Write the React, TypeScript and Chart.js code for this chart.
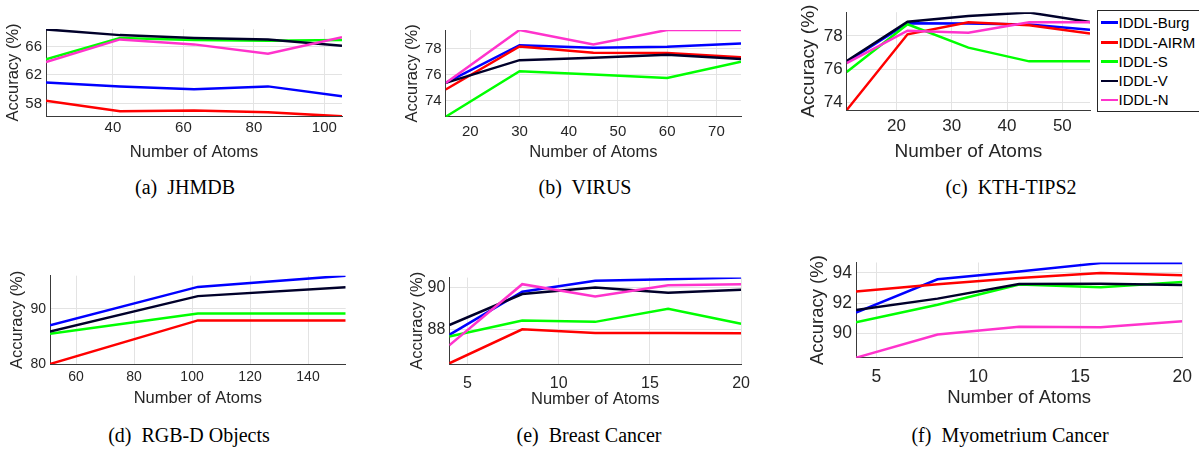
import React, { useEffect, useRef } from 'react';
import { Chart, registerables } from 'chart.js';

Chart.register(...registerables);

// ---------- data ----------
const seriesNames = ['IDDL-Burg', 'IDDL-AIRM', 'IDDL-S', 'IDDL-V', 'IDDL-N'];
const seriesColors = ['#0000ff', '#ff0000', '#00ff00', '#00002a', '#ff33cc'];

// (a) JHMDB
const jhmdbAtoms = [21, 42, 63, 84, 105];
const jhmdbBurg = [60.95, 60.4, 60.0, 60.4, 59.0];
const jhmdbAirm = [58.4, 56.9, 57.0, 56.75, 56.2];
const jhmdbS = [64.2, 67.2, 66.9, 66.8, 66.9];
const jhmdbV = [68.4, 67.6, 67.2, 67.0, 66.1];
const jhmdbN = [63.8, 67.0, 66.3, 65.0, 67.3];
const jhmdbXTicks = [40, 60, 80, 100];
const jhmdbYTicks = [58, 62, 66];

// (b) VIRUS
const virusAtoms = [15, 30, 45, 60, 75];
const virusBurg = [75.36, 78.28, 78.08, 78.15, 78.4];
const virusAirm = [74.85, 78.18, 77.7, 77.68, 77.34];
const virusS = [72.75, 76.27, 76.02, 75.75, 77.0];
const virusV = [75.36, 77.12, 77.3, 77.53, 77.2];
const virusN = [75.36, 79.45, 78.33, 79.45, 79.45];
const virusXTicks = [20, 30, 40, 50, 60, 70];
const virusYTicks = [74, 76, 78];

// (c) KTH-TIPS2
const kthAtoms = [11, 22, 33, 44, 55];
const kthBurg = [76.45, 78.76, 78.74, 78.68, 78.37];
const kthAirm = [73.57, 78.1, 78.82, 78.64, 78.15];
const kthS = [75.84, 78.7, 77.3, 76.48, 76.48];
const kthV = [76.5, 78.85, 79.19, 79.4, 78.84];
const kthN = [76.38, 78.31, 78.19, 78.82, 78.82];
const kthXTicks = [20, 30, 40, 50];
const kthYTicks = [74, 76, 78];

// (d) RGB-D Objects
const rgbdAtoms = [51, 102, 153];
const rgbdBurg = [87.0, 93.97, 96.0];
const rgbdAirm = [80.0, 87.9, 87.9];
const rgbdS = [85.5, 89.15, 89.15];
const rgbdV = [85.9, 92.3, 93.9];
const rgbdXTicks = [60, 80, 100, 120, 140];
const rgbdYTicks = [80, 90];

// (e) Breast Cancer
const breastAtoms = [4, 8, 12, 16, 20];
const breastBurg = [87.77, 89.8, 90.31, 90.38, 90.46];
const breastAirm = [86.43, 88.03, 87.86, 87.86, 87.85];
const breastS = [87.69, 88.44, 88.38, 89.0, 88.29];
const breastV = [88.23, 89.69, 90.0, 89.75, 89.89];
const breastN = [87.28, 90.15, 89.57, 90.1, 90.15];
const breastXTicks = [5, 10, 15, 20];
const breastYTicks = [88, 90];

// (f) Myometrium Cancer
const myoAtoms = [4, 8, 12, 16, 20];
const myoBurg = [91.38, 93.58, 94.1, 94.65, 94.65];
const myoAirm = [92.77, 93.25, 93.66, 94.0, 93.85];
const myoS = [90.74, 91.9, 93.23, 93.06, 93.4];
const myoV = [91.55, 92.3, 93.27, 93.29, 93.2];
const myoN = [88.39, 89.92, 90.43, 90.41, 90.8];
const myoXTicks = [5, 10, 15, 20];
const myoYTicks = [90, 92, 94];

// ---------- layout (positions/styles only) ----------
type Rect = { l: number; r: number; t: number; b: number };
type PanelCfg = {
  caption: string;
  x: number[];
  series: { idx: number; values: number[] }[];
  xMin: number; xMax: number; yMin: number; yMax: number;
  xTicks: number[]; yTicks: number[];
  plot: Rect;
  yTitleCx: number; xTitleCy: number;
  tickSize: number; titleSize: number; xTickPad: number;
  capX: number; capY: number;
};

const panels: PanelCfg[] = [
  {
    caption: '(a)  JHMDB', x: jhmdbAtoms,
    series: [jhmdbBurg, jhmdbAirm, jhmdbS, jhmdbV, jhmdbN].map((values, idx) => ({ idx, values })),
    xMin: 21, xMax: 105, yMin: 56.24, yMax: 68.46, xTicks: jhmdbXTicks, yTicks: jhmdbYTicks,
    plot: { l: 46, r: 342, t: 28, b: 116 }, yTitleCx: 14, xTitleCy: 151.7,
    tickSize: 15, titleSize: 16.5, xTickPad: 3, capX: 185, capY: 187,
  },
  {
    caption: '(b)  VIRUS', x: virusAtoms,
    series: [virusBurg, virusAirm, virusS, virusV, virusN].map((values, idx) => ({ idx, values })),
    xMin: 15, xMax: 75, yMin: 72.75, yMax: 79.45, xTicks: virusXTicks, yTicks: virusYTicks,
    plot: { l: 445.7, r: 741, t: 29, b: 116.7 }, yTitleCx: 413, xTitleCy: 152,
    tickSize: 15, titleSize: 16.5, xTickPad: 6, capX: 585, capY: 187,
  },
  {
    caption: '(c)  KTH-TIPS2', x: kthAtoms,
    series: [kthBurg, kthAirm, kthS, kthV, kthN].map((values, idx) => ({ idx, values })),
    xMin: 11, xMax: 55, yMin: 73.57, yMax: 79.42, xTicks: kthXTicks, yTicks: kthYTicks,
    plot: { l: 846.7, r: 1090, t: 10, b: 110 }, yTitleCx: 809, xTitleCy: 150.7,
    tickSize: 17, titleSize: 19, xTickPad: 6, capX: 1011, capY: 187,
  },
  {
    caption: '(d)  RGB-D Objects', x: rgbdAtoms,
    series: [rgbdBurg, rgbdAirm, rgbdS, rgbdV].map((values, idx) => ({ idx, values })),
    xMin: 51, xMax: 153, yMin: 80, yMax: 96, xTicks: rgbdXTicks, yTicks: rgbdYTicks,
    plot: { l: 50, r: 345.7, t: 275.7, b: 364 }, yTitleCx: 18, xTitleCy: 398,
    tickSize: 14, titleSize: 16.5, xTickPad: 5, capX: 189, capY: 435,
  },
  {
    caption: '(e)  Breast Cancer', x: breastAtoms,
    series: [breastBurg, breastAirm, breastS, breastV, breastN].map((values, idx) => ({ idx, values })),
    xMin: 4, xMax: 20, yMin: 86.4, yMax: 90.46, xTicks: breastXTicks, yTicks: breastYTicks,
    plot: { l: 449.3, r: 745.3, t: 276, b: 364 }, yTitleCx: 418, xTitleCy: 399,
    tickSize: 16, titleSize: 16.5, xTickPad: 10, capX: 589, capY: 435,
  },
  {
    caption: '(f)  Myometrium Cancer', x: myoAtoms,
    series: [myoBurg, myoAirm, myoS, myoV, myoN].map((values, idx) => ({ idx, values })),
    xMin: 4, xMax: 20, yMin: 88.39, yMax: 94.69, xTicks: myoXTicks, yTicks: myoYTicks,
    plot: { l: 856, r: 1186.7, t: 260, b: 357.7 }, yTitleCx: 819, xTitleCy: 397,
    tickSize: 17.5, titleSize: 18.5, xTickPad: 9, capX: 1010, capY: 435,
  },
];

const SANS = '"Liberation Sans", Arial, Helvetica, sans-serif';
const SERIF = '"Liberation Serif", "Times New Roman", serif';
const TEXT = '#262626';
const AXIS = '#3a3a3a';
const GRID = '#e3e3e3';

function Panel({ cfg }: { cfg: PanelCfg }) {
  const ref = useRef<HTMLCanvasElement>(null);
  const lh = cfg.titleSize * 1.2;
  const cLeft = Math.floor(cfg.yTitleCx - lh / 2);
  const cTop = Math.floor(cfg.plot.t - 12);
  const cW = Math.ceil(cfg.plot.r + 14) - cLeft;
  const cH = Math.ceil(cfg.xTitleCy + lh / 2) - cTop;
  const yAxisW = cfg.plot.l - cLeft;
  const padTop = cfg.plot.t - cTop;
  const padRight = cLeft + cW - cfg.plot.r;
  const xAxisH = cTop + cH - cfg.plot.b;

  useEffect(() => {
    const canvas = ref.current!;
    const chart = new Chart(canvas, {
      type: 'line',
      data: {
        datasets: cfg.series.map((s) => ({
          label: seriesNames[s.idx],
          data: cfg.x.map((xv, j) => ({ x: xv, y: s.values[j] })),
          borderColor: seriesColors[s.idx],
          backgroundColor: seriesColors[s.idx],
          borderWidth: 2.5,
          pointRadius: 0,
          tension: 0,
          fill: false,
          order: 10 - s.idx,
        })),
      },
      options: {
        animation: false,
        responsive: false,
        maintainAspectRatio: false,
        layout: { padding: { left: 0, top: padTop, right: padRight, bottom: 0 } },
        plugins: { legend: { display: false }, tooltip: { enabled: false } },
        scales: {
          x: {
            type: 'linear',
            min: cfg.xMin,
            max: cfg.xMax,
            afterBuildTicks: (scale: any) => {
              scale.ticks = cfg.xTicks.map((v) => ({ value: v }));
            },
            afterFit: (scale: any) => {
              scale.height = xAxisH;
            },
            grid: { color: GRID, lineWidth: 1, drawTicks: false },
            border: { display: true, color: AXIS, width: 1 },
            ticks: {
              autoSkip: false, maxRotation: 0, padding: cfg.xTickPad, color: TEXT,
              font: { family: SANS, size: cfg.tickSize },
            },
            title: {
              display: true, text: 'Number of Atoms', color: TEXT, padding: 0,
              font: { family: SANS, size: cfg.titleSize },
            },
          },
          y: {
            type: 'linear',
            min: cfg.yMin,
            max: cfg.yMax,
            afterBuildTicks: (scale: any) => {
              scale.ticks = cfg.yTicks.map((v) => ({ value: v }));
            },
            afterFit: (scale: any) => {
              scale.width = yAxisW;
            },
            grid: { color: GRID, lineWidth: 1, drawTicks: false },
            border: { display: true, color: AXIS, width: 1 },
            ticks: {
              autoSkip: false, padding: 4, color: TEXT,
              font: { family: SANS, size: cfg.tickSize },
            },
            title: {
              display: true, text: 'Accuracy (%)', color: TEXT, padding: 0,
              font: { family: SANS, size: cfg.titleSize },
            },
          },
        },
      } as any,
    });
    return () => chart.destroy();
  }, []);

  return (
    <>
      <canvas
        ref={ref}
        width={cW}
        height={cH}
        style={{ position: 'absolute', left: cLeft, top: cTop, width: cW, height: cH }}
      />
      <div
        style={{
          position: 'absolute', left: cfg.capX, top: cfg.capY, transform: 'translate(-50%, -50%)',
          whiteSpace: 'pre', fontFamily: SERIF, fontSize: 20, color: '#000', lineHeight: 1,
        }}
      >
        {cfg.caption}
      </div>
    </>
  );
}

function Legend() {
  const rows = [22.7, 42.7, 61.7, 81, 100];
  return (
    <div
      style={{
        position: 'absolute', left: 1096.5, top: 10, width: 120, height: 102,
        border: '1px solid #262626', background: '#fff', boxSizing: 'border-box',
      }}
    >
      {seriesNames.map((n, i) => (
        <React.Fragment key={n}>
          <div
            style={{
              position: 'absolute', left: 3, top: rows[i] - 10 - 1.25 - 1, width: 17, height: 2.5,
              background: seriesColors[i],
            }}
          />
          <div
            style={{
              position: 'absolute', left: 21, top: rows[i] - 10 - 1 - 9, height: 18, lineHeight: '18px',
              fontFamily: SANS, fontSize: 15, color: '#000', whiteSpace: 'pre',
            }}
          >
            {n}
          </div>
        </React.Fragment>
      ))}
    </div>
  );
}

export default function App() {
  return (
    <div
      style={{
        position: 'absolute', left: 0, top: 0, width: 1199, height: 449, overflow: 'hidden', background: '#fff',
      }}
    >
      {panels.map((p) => (
        <Panel key={p.caption} cfg={p} />
      ))}
      <Legend />
    </div>
  );
}
